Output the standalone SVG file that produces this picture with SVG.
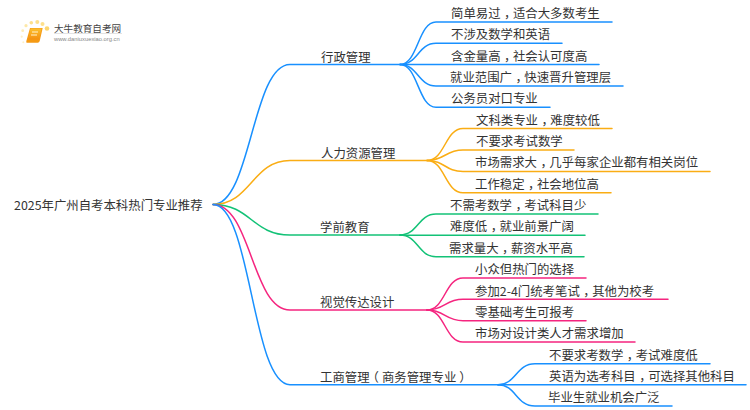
<svg xmlns="http://www.w3.org/2000/svg" width="750" height="410" viewBox="0 0 750 410">
<style>
text{font-family:"Noto Sans CJK SC","Liberation Sans",sans-serif;font-size:12.4px;fill:#333}
.m{letter-spacing:-3.500px}
.c{fill:none;stroke-width:1.5;stroke-linecap:round}
.b{stroke:#1890ff}.o{stroke:#faad14}.g{stroke:#13c277}.p{stroke:#f5257f}
</style>
<defs><linearGradient id="bk" x1="0" y1="0" x2="0" y2="1"><stop offset="0" stop-color="#fcc02e"/><stop offset="1" stop-color="#f58f10"/></linearGradient></defs>
<rect width="750" height="410" fill="#fff"/>
<g id="logo">
<circle cx="47" cy="28.500" r="2.300" fill="#fcd670"/><circle cx="42.500" cy="24" r="2" fill="#fde08c"/><circle cx="37.300" cy="22" r="2" fill="#fde08c"/><circle cx="31.300" cy="22.700" r="1.800" fill="#fde08c"/><circle cx="26" cy="25.700" r="1.600" fill="#fde8a8"/><circle cx="22.700" cy="30.700" r="1.400" fill="#fdecb8"/><circle cx="21.700" cy="36.700" r="1.100" fill="#fdf0c8"/><circle cx="23.300" cy="42.300" r="1" fill="#fdf0c8"/>
<path d="M30 28h12.700l-3 13q-.500 1.700-2 1.700H27q-1 0-.700-1.500z" fill="#f59a14"/><path d="M30.500 28.500h11.200l-2.500 11H28z" fill="url(#bk)"/>
<path d="M32 32h6M31 35h6" stroke="#fff3d0" stroke-width="1" fill="none"/>
<text x="54" y="31.500" style="font-size:9.600px;fill:#444">大牛教育自考网</text>
<rect x="54" y="33" width="68" height="0.800" fill="#ddd"/>
<text x="54" y="41" style="font-size:5.800px;fill:#888;font-family:'Liberation Sans',sans-serif">www.daniuxuexiao.org.cn</text>
</g>
<g id="connectors">
<path class="c b" d="M213 204.500C251 204.500 252 64.500 290 64.500H400"/>
<path class="c o" d="M213 204.500C251 204.500 252 160.500 290 160.500H427"/>
<path class="c g" d="M213 204.500C251 204.500 252 235 290 235H400"/>
<path class="c p" d="M213 204.500C251 204.500 252 310 290 310H427"/>
<path class="c b" d="M213 204.500C251 204.500 252 384.700 290 384.700H498"/>
<g>
<path class="c b" d="M400 64.500C418 64.500 418 22 436 22H612"/>
<path class="c b" d="M400 64.500C418 64.500 418 43.300 436 43.300H562"/>
<path class="c b" d="M400 64.500H599"/>
<path class="c b" d="M400 64.500C418 64.500 418 86 436 86H623"/>
<path class="c b" d="M400 64.500C418 64.500 418 107.300 436 107.300H550"/>
</g>
<g>
<path class="c o" d="M427 160.500C445 160.500 445 128.500 463 128.500H612"/>
<path class="c o" d="M427 160.500C445 160.500 445 150 463 150H574"/>
<path class="c o" d="M427 160.500C445 160.500 445 171.500 463 171.500H710"/>
<path class="c o" d="M427 160.500C445 160.500 445 192.700 463 192.700H611"/>
</g>
<g>
<path class="c g" d="M400 235C418 235 418 214 436 214H598"/>
<path class="c g" d="M400 235.300H585"/>
<path class="c g" d="M400 235C418 235 418 256.700 436 256.700H584"/>
</g>
<g>
<path class="c p" d="M427 310C445 310 445 278 463 278H586"/>
<path class="c p" d="M427 310C445 310 445 299.300 463 299.300H668"/>
<path class="c p" d="M427 310C445 310 445 320.700 463 320.700H586"/>
<path class="c p" d="M427 310C445 310 445 342 463 342H635"/>
</g>
<g>
<path class="c b" d="M498 384.700C516 384.700 516 363.700 535 363.700H710"/>
<path class="c b" d="M498 384.700H746"/>
<path class="c b" d="M498 384.700C516 384.700 516 406 535 406H672"/>
</g>
</g>
<g id="root"><text x="14" y="209.500">2025年广州自考本科热门专业推荐</text></g>
<g id="n1"><text x="321" y="61.500">行政管理</text></g>
<g id="n2"><text x="321" y="157.500">人力资源管理</text></g>
<g id="n3"><text x="320" y="231.500">学前教育</text></g>
<g id="n4"><text x="320" y="306.500">视觉传达设计</text></g>
<g id="n5"><text x="320" y="381.500">工商管<tspan style="letter-spacing:-3px">理</tspan><tspan style="letter-spacing:3px">（</tspan>商务管理专业<tspan dx="3">）</tspan></text></g>
<g id="n1-1"><text x="451" y="18">简单易过<tspan dx="3.500" class="m">，</tspan>适合大多数考生</text></g>
<g id="n1-2"><text x="451" y="39">不涉及数学和英语</text></g>
<g id="n1-3"><text x="451" y="61">含金量高<tspan dx="3.500" class="m">，</tspan>社会认可度高</text></g>
<g id="n1-4"><text x="450" y="82">就业范围广<tspan dx="3.500" class="m">，</tspan>快速晋升管理层</text></g>
<g id="n1-5"><text x="451" y="103">公务员对口专业</text></g>
<g id="n2-1"><text x="476" y="125">文科类专业<tspan dx="3.500" class="m">，</tspan>难度较低</text></g>
<g id="n2-2"><text x="476" y="146">不要求考试数学</text></g>
<g id="n2-3"><text x="475" y="167">市场需求大<tspan dx="3.500" class="m">，</tspan>几乎每家企业都有相关岗位</text></g>
<g id="n2-4"><text x="475" y="189">工作稳定<tspan dx="3.500" class="m">，</tspan>社会地位高</text></g>
<g id="n3-1"><text x="450" y="210">不需考数学<tspan dx="3.500" class="m">，</tspan>考试科目少</text></g>
<g id="n3-2"><text x="450" y="231">难度低<tspan dx="3.500" class="m">，</tspan>就业前景广阔</text></g>
<g id="n3-3"><text x="449" y="253">需求量大<tspan dx="3.500" class="m">，</tspan>薪资水平高</text></g>
<g id="n4-1"><text x="475" y="274">小众但热门的选择</text></g>
<g id="n4-2"><text x="475" y="296">参加2-4门统考笔试<tspan dx="3.500" class="m">，</tspan>其他为校考</text></g>
<g id="n4-3"><text x="475" y="317">零基础考生可报考</text></g>
<g id="n4-4"><text x="475" y="338">市场对设计类人才需求增加</text></g>
<g id="n5-1"><text x="549" y="360">不要求考数学<tspan dx="3.500" class="m">，</tspan>考试难度低</text></g>
<g id="n5-2"><text x="549" y="381">英语为选考科目<tspan dx="3.500" class="m">，</tspan>可选择其他科目</text></g>
<g id="n5-3"><text x="548" y="402">毕业生就业机会广泛</text></g>
</svg>
